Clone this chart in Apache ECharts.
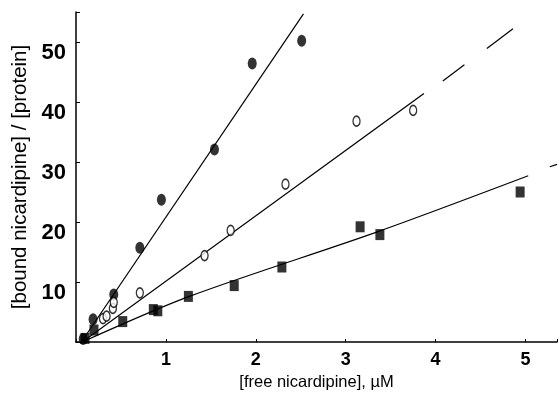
<!DOCTYPE html>
<html><head><meta charset="utf-8">
<script src="https://cdn.jsdelivr.net/npm/echarts@6/dist/echarts.min.js"></script>
<style>html,body{margin:0;padding:0;background:#fff}#c{width:560px;height:396px}</style>
</head><body><div id="c"></div>
<script>
// ---- data ----
const filledCircles = [[0.08,0.5],[0.19,3.8],[0.42,7.9],[0.71,15.7],[0.95,23.7],[1.54,32.1],[1.96,46.4],[2.51,50.2]];
const openCircles = [[0.30,3.9],[0.34,4.3],[0.41,5.6],[0.42,6.6],[0.71,8.2],[1.43,14.4],[1.72,18.6],[2.33,26.3],[3.12,36.8],[3.75,38.6]];
const filledSquares = [[0.10,0.6],[0.20,2.0],[0.52,3.4],[0.86,5.4],[0.91,5.2],[1.25,7.6],[1.76,9.4],[2.29,12.5],[3.16,19.2],[3.38,17.9],[4.94,25.0]];
const filledFit = [[0.06,0],[2.53,54.7]];
const openFit = [[0.07,0],[3.87,41.4]];
const openFitDash1 = [[4.08,43.5],[4.32,46.2]];
const openFitDash2 = [[4.57,48.9],[4.86,52.2]];
const squareFit = [[0.07,0],[1.26,7.6],[3.36,18.4],[5.03,27.7]];
const squareFitDash = [[5.27,29.2],[5.35,29.6]];
const xTicks = [1,2,3,4,5];
const yTicks = [10,20,30,40,50];

const chart = echarts.init(document.getElementById('c'), null, {renderer:'canvas'});
const black = '#000';
const narrow = '"Liberation Sans Narrow", "Arial Narrow", "Liberation Sans", sans-serif';
function fitLine(data){
  return {type:'line', data:data, showSymbol:false, symbol:'none', silent:true,
    lineStyle:{color:black, width:1.2}, z:2, animation:false};
}
chart.setOption({
  animation:false,
  backgroundColor:'#fff',
  grid:{left:76, top:12, width:484, height:331.5, containLabel:false},
  xAxis:{type:'value', min:0, max:5.35, interval:1,
    axisLine:{show:true, onZero:false, lineStyle:{color:black, width:1.5}},
    axisTick:{show:true, inside:true, length:3, lineStyle:{color:black}},
    splitLine:{show:false},
    axisLabel:{color:black, fontFamily:narrow, fontSize:18, fontWeight:'bold', margin:9,
      formatter:v => xTicks.includes(v) ? String(v) : ''},
    name:'[free nicardipine], µM', nameLocation:'middle', nameGap:32,
    nameTextStyle:{color:black, fontFamily:'Liberation Sans', fontSize:16.5}
  },
  yAxis:{type:'value', min:0, max:55, interval:10,
    axisLine:{show:true, onZero:false, lineStyle:{color:black, width:1.5}},
    axisTick:{show:true, inside:true, length:4, lineStyle:{color:black}},
    splitLine:{show:false},
    axisLabel:{color:black, fontFamily:narrow, fontSize:22, fontWeight:'bold', margin:10, verticalAlign:'top',
      formatter:v => yTicks.includes(v) ? String(v) : ''},
    name:'[bound nicardipine] / [protein]', nameLocation:'middle', nameGap:44, nameRotate:90,
    nameTextStyle:{color:black, fontFamily:'Liberation Sans', fontSize:20.5}
  },
  series:[
    fitLine(filledFit), fitLine(openFit), fitLine(openFitDash1), fitLine(openFitDash2),
    Object.assign(fitLine(squareFit), {smooth:0.3}), fitLine(squareFitDash),
    {type:'scatter', data:filledCircles, symbol:'circle', symbolSize:[9,12],
      itemStyle:{color:black}, z:5},
    {type:'scatter', data:openCircles, symbol:'circle', symbolSize:[7,10],
      itemStyle:{color:'#fff', borderColor:black, borderWidth:1.5}, z:5},
    {type:'scatter', data:filledSquares, symbol:'rect', symbolSize:[9,11],
      itemStyle:{color:black}, z:5}
  ]
});
</script></body></html>
